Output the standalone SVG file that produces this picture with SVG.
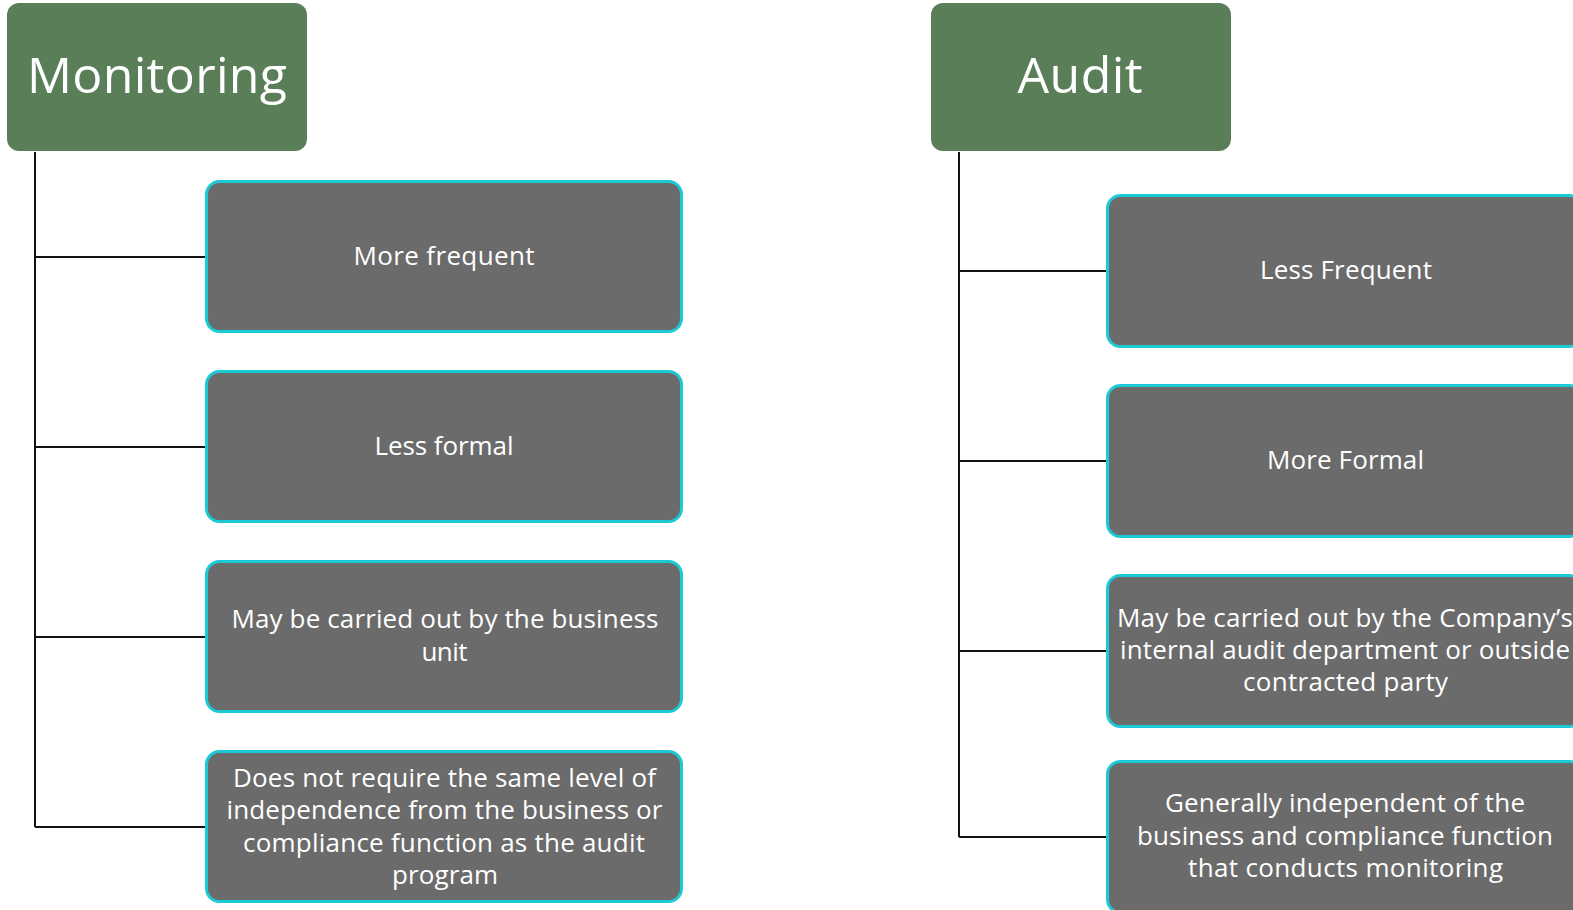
<svg xmlns="http://www.w3.org/2000/svg" width="1573" height="910" viewBox="0 0 1573 910">
  <style>
    .head rect { fill: #5A7F58; }
    .head text { fill: #FFFFFF; font-family: "Open Sans", "Liberation Sans", sans-serif; font-size: 50px; text-anchor: middle; }
    .item rect { fill: #6B6B6B; stroke: #1CCAD6; stroke-width: 3; }
    .item text { fill: #FFFFFF; font-family: "Open Sans", "Liberation Sans", sans-serif; font-size: 26px; text-anchor: middle; }
    .conn { fill: none; stroke: #111111; stroke-width: 2; }
  </style>

  <!-- tree connectors -->
  <g id="connectors" class="conn">
    <path d="M35 152 V827 M35 257 H206 M35 447 H206 M35 637 H206 M35 827 H206"/>
    <path d="M959 152 V837 M959 271 H1107 M959 461 H1107 M959 651 H1107 M959 837 H1107"/>
  </g>

  <!-- Monitoring column -->
  <g id="monitoring" class="head">
    <rect x="7" y="3" width="300" height="148" rx="12"/>
    <text x="157" y="93" textLength="260">Monitoring</text>
  </g>
  <g id="m-frequent" class="item">
    <rect x="206.5" y="181.5" width="475" height="150" rx="13"/>
    <text x="444" y="265" textLength="181">More frequent</text>
  </g>
  <g id="m-formal" class="item">
    <rect x="206.5" y="371.5" width="475" height="150" rx="13"/>
    <text x="444" y="455" textLength="139">Less formal</text>
  </g>
  <g id="m-business" class="item">
    <rect x="206.5" y="561.5" width="475" height="150" rx="13"/>
    <text x="445" y="628" textLength="427">May be carried out by the business</text>
    <text x="444.5" y="661" textLength="46">unit</text>
  </g>
  <g id="m-independence" class="item">
    <rect x="206.5" y="751.5" width="475" height="150" rx="13"/>
    <text x="444.5" y="787" textLength="423">Does not require the same level of</text>
    <text x="444.5" y="819" textLength="436">independence from the business or</text>
    <text x="444" y="851.5" textLength="402">compliance function as the audit</text>
    <text x="445" y="883.5" textLength="106">program</text>
  </g>

  <!-- Audit column -->
  <g id="audit" class="head">
    <rect x="931" y="3" width="300" height="148" rx="12"/>
    <text x="1080" y="93" textLength="125">Audit</text>
  </g>
  <g id="a-frequent" class="item">
    <rect x="1107.5" y="195.5" width="475" height="151" rx="13"/>
    <text x="1346" y="279" textLength="172">Less Frequent</text>
  </g>
  <g id="a-formal" class="item">
    <rect x="1107.5" y="385.5" width="475" height="151" rx="13"/>
    <text x="1345.5" y="469" textLength="157">More Formal</text>
  </g>
  <g id="a-party" class="item">
    <rect x="1107.5" y="575.5" width="475" height="151" rx="13"/>
    <text x="1345" y="626.5" textLength="456">May be carried out by the Company’s</text>
    <text x="1345" y="659" textLength="450">internal audit department or outside</text>
    <text x="1345.5" y="691" textLength="205">contracted party</text>
  </g>
  <g id="a-independent" class="item">
    <rect x="1107.5" y="761.5" width="475" height="151" rx="13"/>
    <text x="1345" y="812" textLength="360">Generally independent of the</text>
    <text x="1345" y="845" textLength="416">business and compliance function</text>
    <text x="1345.5" y="877" textLength="315">that conducts monitoring</text>
  </g>
</svg>
